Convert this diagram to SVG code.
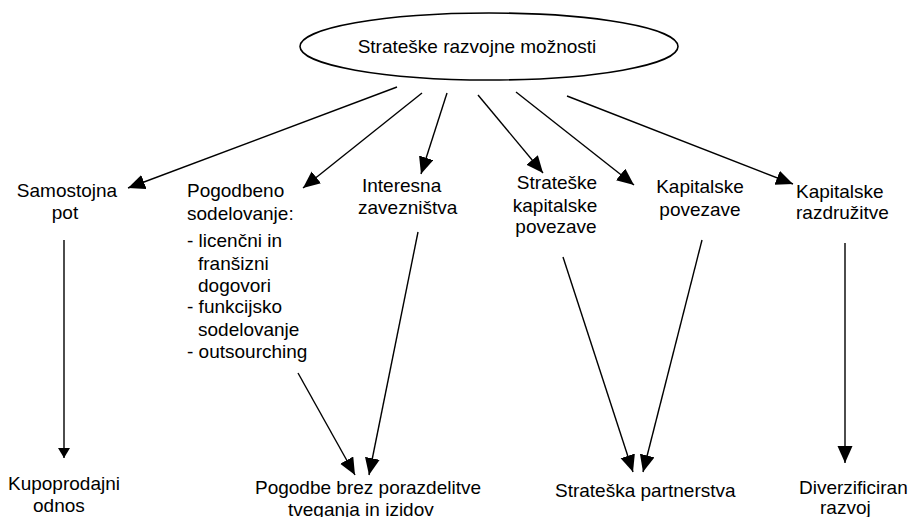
<svg xmlns="http://www.w3.org/2000/svg" width="911" height="517" viewBox="0 0 911 517">
  <style>
    .t { font-family: "Liberation Sans", Arial, sans-serif; font-size: 19px; fill: #000; }
    .m { text-anchor: middle; }
    .edge { stroke: #000; stroke-width: 1.4; fill: none; }
  </style>
  <defs>
    <marker id="head" markerUnits="userSpaceOnUse" markerWidth="19" markerHeight="16" refX="17" refY="7.5" orient="auto">
      <path d="M0,0 L17,7.5 L0,15 z" fill="#000"/>
    </marker>
    <marker id="headSmall" markerUnits="userSpaceOnUse" markerWidth="11" markerHeight="13" refX="10" refY="6" orient="auto">
      <path d="M0,0 L10,6 L0,12 z" fill="#000"/>
    </marker>
  </defs>

  <rect width="911" height="517" fill="#fff"/>

  <g id="root">
    <ellipse cx="489" cy="46.5" rx="189" ry="33.5" fill="#fff" stroke="#000" stroke-width="1.6"/>
    <text class="t m" x="477" y="53">Strateške razvojne možnosti</text>
  </g>

  <g id="samostojna">
    <text class="t m" x="67" y="197">Samostojna</text>
    <text class="t m" x="65" y="219">pot</text>
  </g>

  <g id="pogodbeno">
    <text class="t" x="187" y="197">Pogodbeno</text>
    <text class="t" x="187" y="220">sodelovanje:</text>
    <text class="t" x="187" y="247">- licenčni in</text>
    <text class="t" x="198" y="270">franšizni</text>
    <text class="t" x="198" y="292">dogovori</text>
    <text class="t" x="187" y="313">- funkcijsko</text>
    <text class="t" x="198" y="336">sodelovanje</text>
    <text class="t" x="187" y="358">- outsourching</text>
  </g>

  <g id="interesna">
    <text class="t" x="362" y="192">Interesna</text>
    <text class="t" x="358" y="214">zavezništva</text>
  </g>

  <g id="strateske-kap">
    <text class="t m" x="557" y="189">Strateške</text>
    <text class="t m" x="555" y="212">kapitalske</text>
    <text class="t m" x="556" y="233">povezave</text>
  </g>

  <g id="kap-povezave">
    <text class="t m" x="700" y="193">Kapitalske</text>
    <text class="t m" x="700" y="216">povezave</text>
  </g>

  <g id="kap-razdruzitve">
    <text class="t" x="796" y="198">Kapitalske</text>
    <text class="t" x="796" y="219">razdružitve</text>
  </g>

  <g id="kupoprodajni">
    <text class="t" x="8" y="490">Kupoprodajni</text>
    <text class="t" x="33" y="512">odnos</text>
  </g>

  <g id="pogodbe-brez">
    <text class="t" x="255" y="494">Pogodbe brez porazdelitve</text>
    <text class="t" x="288" y="516">tveganja in izidov</text>
  </g>

  <g id="partnerstva">
    <text class="t" x="555" y="497">Strateška partnerstva</text>
  </g>

  <g id="diverzificiran">
    <text class="t" x="799" y="494">Diverzificiran</text>
    <text class="t" x="820" y="514">razvoj</text>
  </g>

  <g id="connectors">
    <path class="edge" d="M397,87 L128,188" marker-end="url(#head)"/>
    <path class="edge" d="M422,93 L303,188" marker-end="url(#head)"/>
    <path class="edge" d="M447,93 L421,174" marker-end="url(#head)"/>
    <path class="edge" d="M478,95 L543,173" marker-end="url(#head)"/>
    <path class="edge" d="M516,92 L634,185" marker-end="url(#head)"/>
    <path class="edge" d="M567,96 L793,184" marker-end="url(#head)"/>
    <path class="edge" d="M64,240 L64,458" marker-end="url(#headSmall)"/>
    <path class="edge" d="M298,373 L355,475" marker-end="url(#head)"/>
    <path class="edge" d="M418,232 L369,475" marker-end="url(#head)"/>
    <path class="edge" d="M563,257 L633,472" marker-end="url(#head)"/>
    <path class="edge" d="M702,240 L643,472" marker-end="url(#head)"/>
    <path class="edge" d="M845,243 L845,463" marker-end="url(#head)"/>
  </g>
</svg>
